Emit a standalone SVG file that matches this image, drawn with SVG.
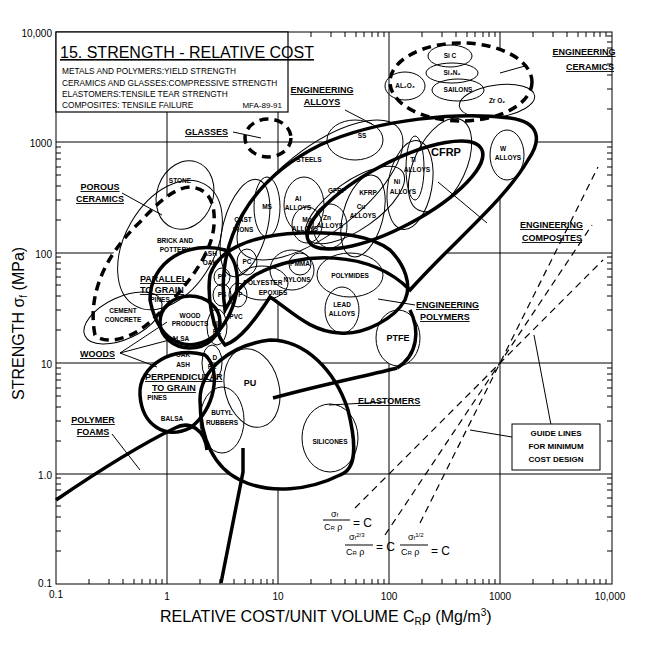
<svg xmlns="http://www.w3.org/2000/svg" xmlns:xlink="http://www.w3.org/1999/xlink" width="663" height="652" viewBox="0 0 663 652">
<style>
text{font-family:"Liberation Sans",Arial,sans-serif;fill:#000}
.s{font-size:6.5px;font-weight:bold;text-anchor:middle}
.lb{font-size:9px;font-weight:bold;text-decoration:underline}
.ax{font-size:10px}
.grid{stroke:#000;stroke-width:1;fill:none}
.thin{stroke:#000;stroke-width:1;fill:none}
.thick{stroke:#000;stroke-width:3.5;fill:none}
.dash{stroke:#000;stroke-width:3.5;fill:none;stroke-dasharray:9 6}
.guide{stroke:#000;stroke-width:1.2;fill:none;stroke-dasharray:7 5}
.white{fill:#fff;stroke:none}
.lead{stroke:#000;stroke-width:1;fill:none}
</style>
<defs>
<path id="xt" d="M33 0v-5M53 0v-5M67 0v-5M78 0v-5M86 0v-5M94 0v-5M100 0v-5M106 0v-5" stroke="#000" stroke-width="1"/>
<path id="yt" d="M0 -33h5M0 -53h5M0 -67h5M0 -78h5M0 -86h5M0 -94h5M0 -100h5M0 -106h5" stroke="#000" stroke-width="1"/>
<path id="pAlloys" d="M225,310 C215,240 250,180 320,145 C380,118 460,112 510,118 C540,122 542,140 528,160 C505,200 455,240 410,290 C370,250 300,250 255,275 C240,285 230,300 225,310Z"/>
<path id="pPoly" d="M210,275 C218,250 250,235 300,233 C340,232 370,235 390,250 C405,265 412,285 405,300 C395,318 365,335 340,333 C310,332 290,310 270,297 C255,320 240,340 225,345 C212,330 207,295 210,275Z"/>
<path id="pElast" d="M200,400 C200,370 230,345 270,340 C305,340 335,370 348,410 C358,450 355,470 340,475 C310,490 270,495 240,480 C215,468 200,440 200,400Z"/>
<path id="pPorous" d="M95,335 C88,300 100,260 140,222 C160,200 175,188 190,187 C205,188 216,198 214,225 C212,255 185,290 150,322 C130,340 105,345 95,335Z"/>
<path id="pPar" d="M150,300 C150,260 190,240 225,250 C245,265 240,310 215,335 C195,352 160,350 150,300Z"/>
<path id="pPerp" d="M140,395 C138,365 175,345 205,355 C222,370 215,410 190,428 C165,440 142,425 140,395Z"/>
</defs>
<rect width="663" height="652" fill="#fff"/>
<g id="axes">
<rect x="56" y="32" width="556" height="552" class="grid"/>
<path class="grid" d="M167 32V584M278 32V584M389 32V584M500 32V584M56 474H612M56 363H612M56 253H612M56 142H612"/>
<use xlink:href="#xt" x="56" y="584"/><use xlink:href="#xt" x="167" y="584"/><use xlink:href="#xt" x="278" y="584"/><use xlink:href="#xt" x="389" y="584"/><use xlink:href="#xt" x="500" y="584"/>
<use xlink:href="#xt" transform="translate(56,32) scale(1,-1)"/><use xlink:href="#xt" transform="translate(167,32) scale(1,-1)"/><use xlink:href="#xt" transform="translate(278,32) scale(1,-1)"/><use xlink:href="#xt" transform="translate(389,32) scale(1,-1)"/><use xlink:href="#xt" transform="translate(500,32) scale(1,-1)"/>
<use xlink:href="#yt" x="56" y="584"/><use xlink:href="#yt" x="56" y="474"/><use xlink:href="#yt" x="56" y="363"/><use xlink:href="#yt" x="56" y="253"/><use xlink:href="#yt" x="56" y="142"/>
<use xlink:href="#yt" transform="translate(612,584) scale(-1,1)"/><use xlink:href="#yt" transform="translate(612,474) scale(-1,1)"/><use xlink:href="#yt" transform="translate(612,363) scale(-1,1)"/><use xlink:href="#yt" transform="translate(612,253) scale(-1,1)"/><use xlink:href="#yt" transform="translate(612,142) scale(-1,1)"/>
<text class="ax" x="52" y="37" text-anchor="end">10,000</text>
<text class="ax" x="52" y="147" text-anchor="end">1000</text>
<text class="ax" x="52" y="258" text-anchor="end">100</text>
<text class="ax" x="52" y="368" text-anchor="end">10</text>
<text class="ax" x="52" y="479" text-anchor="end">1.0</text>
<text class="ax" x="52" y="587" text-anchor="end">0.1</text>
<text class="ax" x="56" y="598" text-anchor="middle">0.1</text>
<text class="ax" x="167" y="600" text-anchor="middle">1</text>
<text class="ax" x="278" y="600" text-anchor="middle">10</text>
<text class="ax" x="389" y="600" text-anchor="middle">100</text>
<text class="ax" x="500" y="600" text-anchor="middle">1000</text>
<text class="ax" x="610" y="600" text-anchor="middle">10,000</text>
<text x="160" y="622" font-size="16">RELATIVE COST/UNIT VOLUME  C<tspan font-size="10" dy="3">R</tspan><tspan dy="-3">ρ  (Mg/m</tspan><tspan font-size="10" dy="-6">3</tspan><tspan dy="6">)</tspan></text>
<text transform="translate(24,400) rotate(-90)" font-size="16">STRENGTH  σ<tspan font-size="10" dy="3">f</tspan><tspan dy="-3">  (MPa)</tspan></text>
</g>
<g id="title">
<rect x="56" y="32" width="232" height="80" fill="#fff" stroke="#000" stroke-width="1.2"/>
<text x="60" y="58" font-size="16" text-decoration="underline">15. STRENGTH - RELATIVE COST</text>
<text x="62" y="74" font-size="8.3">METALS AND POLYMERS:YIELD STRENGTH</text>
<text x="62" y="86" font-size="8.3">CERAMICS AND GLASSES:COMPRESSIVE STRENGTH</text>
<text x="62" y="97" font-size="8.3">ELASTOMERS:TENSILE TEAR STRENGTH</text>
<text x="62" y="108" font-size="8.3">COMPOSITES: TENSILE FAILURE</text>
<text x="282" y="108" font-size="8" text-anchor="end">MFA-89-91</text>
</g>
<g id="envelopes-fill">
<use xlink:href="#pAlloys" class="white"/><use xlink:href="#pPoly" class="white"/><use xlink:href="#pElast" class="white"/><use xlink:href="#pPorous" class="white"/><use xlink:href="#pPar" class="white"/><use xlink:href="#pPerp" class="white"/>
<ellipse cx="461" cy="82" rx="71" ry="39" class="white"/>
<ellipse cx="395" cy="195" rx="98" ry="32" transform="rotate(-28 395 195)" class="white"/>
<ellipse cx="398" cy="338" rx="22" ry="28" class="white"/>
</g>
<g id="connectors">
<path class="guide" d="M355,508 L603,260M385,535 L592,225M420,523 L598,167"/>
<path class="lead" d="M551,425 L534,335M512,437 L470,430"/>
<path class="lead" d="M500,73 L525,66M233,132 L261,138M122,193 L162,215M345,110 L372,124M438,182 L487,223M378,299 L415,305M329,405 L385,402M120,353 L167,322M120,353 L177,338M120,353 L157,367M112,434 L140,470"/>
</g>
<g id="glasses"><ellipse cx="268" cy="138" rx="23" ry="19" class="dash" stroke-dasharray="7 5"/><text class="lb" x="185" y="135">GLASSES</text></g>
<g id="eng-ceramics">
<ellipse cx="461" cy="82" rx="71" ry="39" class="dash"/>
<ellipse cx="450" cy="56" rx="22" ry="11" class="thin"/><text class="s" x="450" y="58">Si C</text>
<ellipse cx="452" cy="73" rx="26" ry="10" class="thin"/><text class="s" x="452" y="75">Si₃N₄</text>
<ellipse cx="405" cy="86" rx="20" ry="14" class="thin"/><text class="s" x="405" y="88">AL₂O₃</text>
<ellipse cx="458" cy="90" rx="26" ry="11" class="thin"/><text class="s" x="458" y="92">SAILONS</text>
<ellipse cx="497" cy="101" rx="38" ry="16" transform="rotate(-8 497 101)" class="thin"/><text class="s" x="497" y="103">Zr O₂</text>
<text class="lb" x="584" y="55" text-anchor="middle">ENGINEERING</text><text class="lb" x="590" y="70" text-anchor="middle">CERAMICS</text>
</g>
<g id="eng-alloys">
<use xlink:href="#pAlloys" class="thick"/>
<ellipse cx="320" cy="190" rx="100" ry="42" transform="rotate(-38 320 190)" class="thin"/>
<ellipse cx="355" cy="140" rx="28" ry="20" class="thin"/><text class="s" x="362" y="138">SS</text>
<text class="s" x="309" y="162">STEELS</text>
<ellipse cx="245" cy="228" rx="22" ry="50" transform="rotate(15 245 228)" class="thin"/>
<text class="s" x="243" y="222">CAST</text><text class="s" x="243" y="232">IRONS</text>
<ellipse cx="267" cy="207" rx="13" ry="30" class="thin"/><text class="s" x="267" y="209">MS</text>
<ellipse cx="304" cy="205" rx="20" ry="28" class="thin"/><text class="s" x="298" y="201">Al</text><text class="s" x="298" y="210">ALLOYS</text>
<ellipse cx="307" cy="225" rx="15" ry="18" class="thin"/><text class="s" x="307" y="222">Mg</text><text class="s" x="305" y="231">ALLOYS</text>
<ellipse cx="330" cy="226" rx="17" ry="22" class="thin"/><text class="s" x="327" y="220">Zn</text><text class="s" x="330" y="228">ALLOYS</text>
<ellipse cx="363" cy="216" rx="20" ry="42" transform="rotate(15 363 216)" class="thin"/><text class="s" x="361" y="209">Cu</text><text class="s" x="363" y="218">ALLOYS</text>
<ellipse cx="507" cy="155" rx="17" ry="25" class="thin"/><text class="s" x="503" y="151">W</text><text class="s" x="508" y="160">ALLOYS</text>
<text class="lb" x="322" y="93" text-anchor="middle">ENGINEERING</text><text class="lb" x="322" y="105" text-anchor="middle">ALLOYS</text>
</g>
<g id="eng-composites">
<ellipse cx="395" cy="195" rx="98" ry="32" transform="rotate(-28 395 195)" class="thick"/>
<ellipse cx="355" cy="205" rx="58" ry="24" transform="rotate(-35 355 205)" class="thin"/>
<text class="s" x="337" y="193">GFRP</text><text class="s" x="368" y="195">KFRP</text>
<ellipse cx="410" cy="185" rx="22" ry="45" transform="rotate(10 410 185)" class="thin"/>
<ellipse cx="415" cy="168" rx="9" ry="32" class="thin"/>
<text class="s" x="413" y="162">Ti</text><text class="s" x="417" y="172">ALLOYS</text>
<text class="s" x="397" y="184">Ni</text><text class="s" x="403" y="194">ALLOYS</text>
<ellipse cx="440" cy="165" rx="26" ry="50" transform="rotate(25 440 165)" class="thin"/>
<text x="446" y="156" font-size="11" font-weight="bold" text-anchor="middle">CFRP</text>
<text class="lb" x="520" y="228">ENGINEERING</text><text class="lb" x="522" y="241">COMPOSITES</text>
</g>
<g id="porous-ceramics">
<use xlink:href="#pPorous" class="dash"/>
<ellipse cx="185" cy="195" rx="28" ry="35" transform="rotate(20 185 195)" class="thin"/><text class="s" x="180" y="183">STONE</text>
<ellipse cx="170" cy="245" rx="45" ry="70" transform="rotate(30 170 245)" class="thin"/>
<text class="s" x="175" y="243">BRICK AND</text><text class="s" x="175" y="252">POTTERY</text>
<ellipse cx="123" cy="318" rx="42" ry="21" transform="rotate(-25 123 318)" class="thin"/>
<text class="s" x="123" y="313">CEMENT</text><text class="s" x="123" y="322">CONCRETE</text>
<text class="lb" x="100" y="190" text-anchor="middle">POROUS</text><text class="lb" x="100" y="202" text-anchor="middle">CERAMICS</text>
</g>
<g id="woods">
<use xlink:href="#pPar" class="thick"/><use xlink:href="#pPerp" class="thick"/>
<ellipse cx="190" cy="322" rx="30" ry="26" class="thick" stroke-width="2.5"/>
<text class="s" x="210" y="256">ASH</text><text class="s" x="210" y="265">OAK</text>
<text class="lb" x="140" y="282" font-size="8">PARALLEL</text><text class="lb" x="140" y="293" font-size="8">TO GRAIN</text>
<text class="s" x="160" y="302">PINES</text>
<text class="s" x="190" y="318">WOOD</text><text class="s" x="190" y="326">PRODUCTS</text>
<text class="s" x="178" y="341">BALSA</text>
<text class="s" x="183" y="357">OAK</text><text class="s" x="183" y="367">ASH</text>
<text class="lb" x="145" y="380" font-size="8">PERPENDICULAR</text><text class="lb" x="152" y="391" font-size="8">TO GRAIN</text>
<text class="s" x="157" y="400">PINES</text>
<text class="lb" x="80" y="357">WOODS</text>
</g>
<g id="eng-polymers">
<use xlink:href="#pPoly" class="thick"/>
<ellipse cx="247" cy="262" rx="10" ry="13" class="thin"/><text class="s" x="247" y="264">PC</text>
<ellipse cx="222" cy="277" rx="8" ry="9" class="thin"/><text class="s" x="222" y="279">PP</text>
<ellipse cx="222" cy="295" rx="9" ry="11" class="thin"/><text class="s" x="222" y="297">PS</text>
<ellipse cx="238" cy="295" rx="9" ry="12" class="thin"/><text class="s" x="238" y="297">PF</text>
<text class="s" x="236" y="319">PVC</text>
<ellipse cx="217" cy="327" rx="10" ry="18" class="thin"/><text class="s" x="217" y="326">HD</text><text class="s" x="217" y="334">PE</text>
<ellipse cx="212" cy="363" rx="10" ry="18" class="thin"/><text class="s" x="212" y="360">L D</text><text class="s" x="212" y="369">PE</text>
<ellipse cx="262" cy="283" rx="26" ry="17" class="thin"/>
<text class="s" x="263" y="285">POLYESTER</text><text class="s" x="273" y="295">EPOXIES</text>
<ellipse cx="292" cy="270" rx="22" ry="20" class="thin"/>
<ellipse cx="300" cy="264" rx="11" ry="11" class="thin"/><text class="s" x="300" y="266">PMMA</text>
<text class="s" x="297" y="282">NYLONS</text>
<ellipse cx="350" cy="275" rx="33" ry="22" class="thin"/><text class="s" x="350" y="278">POLYMIDES</text>
<ellipse cx="342" cy="310" rx="17" ry="23" class="thin"/><text class="s" x="342" y="307">LEAD</text><text class="s" x="342" y="316">ALLOYS</text>
<ellipse cx="398" cy="338" rx="22" ry="28" class="thin"/><text x="398" y="341" font-size="9" font-weight="bold" text-anchor="middle">PTFE</text>
<path class="thick" d="M410,310 C420,330 418,355 397,368"/>
<text class="lb" x="416" y="308">ENGINEERING</text><text class="lb" x="420" y="320">POLYMERS</text>
</g>
<g id="elastomers">
<use xlink:href="#pElast" class="thick"/>
<path class="thick" d="M273,398 C320,385 370,375 397,368"/>
<ellipse cx="252" cy="388" rx="27" ry="40" transform="rotate(-15 252 388)" class="thin"/><text x="250" y="386" font-size="9" font-weight="bold" text-anchor="middle">PU</text>
<ellipse cx="222" cy="420" rx="22" ry="33" class="thin"/><text class="s" x="222" y="415">BUTYL</text><text class="s" x="222" y="425">RUBBERS</text>
<ellipse cx="330" cy="438" rx="28" ry="34" class="thin"/><text class="s" x="330" y="444">SILICONES</text>
<path class="thick" d="M243,448 L243,472 L221,583"/>
<text class="lb" x="358" y="404">ELASTOMERS</text>
</g>
<g id="polymer-foams">
<path class="thick" d="M56,500 C100,470 140,445 175,428 C190,420 205,430 207,450"/>
<text class="lb" x="93" y="423" text-anchor="middle">POLYMER</text><text class="lb" x="93" y="435" text-anchor="middle">FOAMS</text>
<text class="s" x="172" y="421">BALSA</text>
</g>
<g id="guide-box">
<rect x="512" y="424" width="88" height="46" fill="#fff" stroke="#000" stroke-width="1"/>
<text x="556" y="436" font-size="8" font-weight="bold" text-anchor="middle">GUIDE LINES</text>
<text x="556" y="449" font-size="8" font-weight="bold" text-anchor="middle">FOR MINIMUM</text>
<text x="556" y="462" font-size="8" font-weight="bold" text-anchor="middle">COST DESIGN</text>
</g>
<g id="formulas">
<text x="331" y="517" font-size="9">σ<tspan font-size="6">f</tspan></text><line x1="323" y1="520" x2="350" y2="520" stroke="#000"/><text x="324" y="530" font-size="9">C<tspan font-size="6">R</tspan> ρ</text><text x="353" y="527" font-size="12">= C</text>
<text x="349" y="540" font-size="9">σ<tspan font-size="6">f</tspan><tspan font-size="6" dy="-3">2/3</tspan></text><line x1="345" y1="545" x2="373" y2="545" stroke="#000"/><text x="346" y="555" font-size="9">C<tspan font-size="6">R</tspan> ρ</text><text x="376" y="551" font-size="12">= C</text>
<text x="408" y="540" font-size="9">σ<tspan font-size="6">f</tspan><tspan font-size="6" dy="-3">1/2</tspan></text><line x1="400" y1="545" x2="428" y2="545" stroke="#000"/><text x="401" y="555" font-size="9">C<tspan font-size="6">R</tspan> ρ</text><text x="431" y="555" font-size="12">= C</text>
</g>
</svg>
